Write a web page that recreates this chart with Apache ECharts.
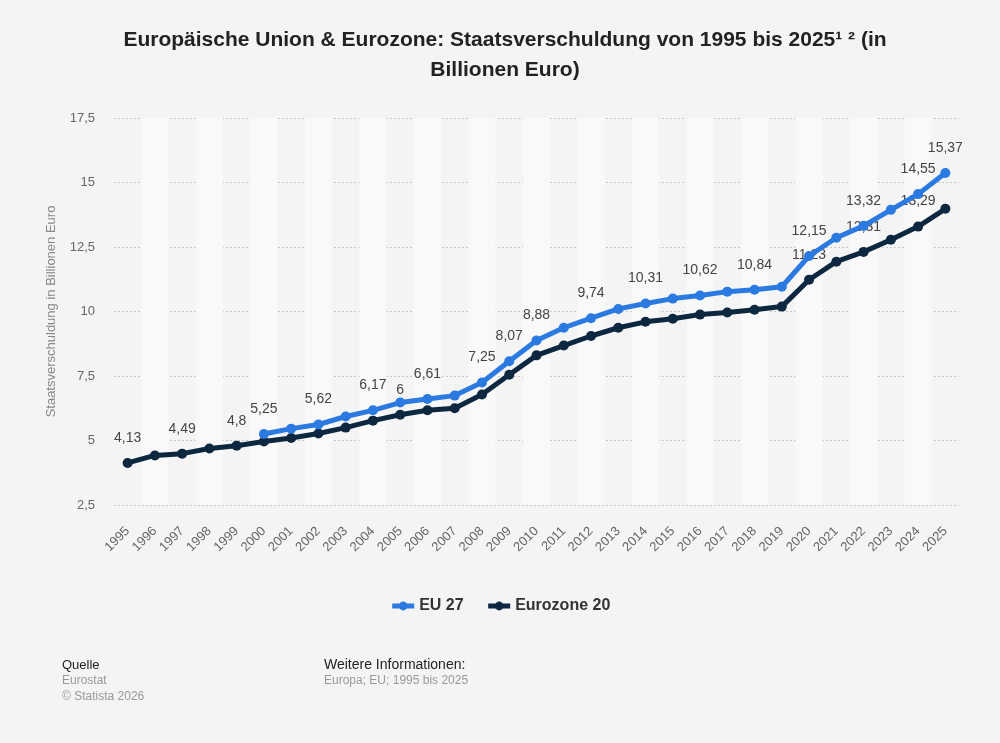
<!DOCTYPE html>
<html>
<head>
<meta charset="utf-8">
<script src="https://cdn.jsdelivr.net/npm/echarts@6/dist/echarts.min.js"></script>
<style>
    html, body { margin: 0; padding: 0; background: #f4f4f4; }
    #chart { width: 1000px; height: 743px; }
</style>
</head>
<body>
<div id="chart"></div>
<script>
var years = ['1995', '1996', '1997', '1998', '1999', '2000', '2001', '2002', '2003', '2004',
    '2005', '2006', '2007', '2008', '2009', '2010', '2011', '2012', '2013', '2014', '2015',
    '2016', '2017', '2018', '2019', '2020', '2021', '2022', '2023', '2024', '2025'];

var eu27 = [null, null, null, null, null, 5.25, 5.46, 5.62, 5.93, 6.17,
    6.47, 6.61, 6.74, 7.25, 8.07, 8.88, 9.37, 9.74, 10.1, 10.31, 10.5,
    10.62, 10.77, 10.84, 10.96, 12.15, 12.86, 13.32, 13.94, 14.55, 15.37];

var eurozone20 = [4.13, 4.42, 4.49, 4.69, 4.8, 4.96, 5.1, 5.27, 5.5, 5.77,
    6, 6.17, 6.25, 6.78, 7.55, 8.3, 8.68, 9.05, 9.37, 9.6, 9.72,
    9.88, 9.96, 10.07, 10.19, 11.23, 11.93, 12.31, 12.78, 13.29, 13.98];

// years whose value gets a label
var eu27Labels = ['2000', '2002', '2004', '2006', '2008', '2009', '2010', '2012', '2014',
    '2016', '2018', '2020', '2022', '2024', '2025'];
var eurozoneLabels = ['1995', '1997', '1999', '2005', '2020', '2022', '2024'];

var yTicks = [2.5, 5, 7.5, 10, 12.5, 15, 17.5];

var font = 'Liberation Sans, Arial, sans-serif';

function fmt(v) {
    return String(v).replace('.', ',');
}

function withLabels(values, labelYears) {
    var out = [];
    for (var i = 0; i < values.length; i++) {
        var item = {value: values[i]};
        if (labelYears.indexOf(years[i]) >= 0) {
            item.label = {show: true};
        }
        out.push(item);
    }
    return out;
}

var labelStyle = {
    show: false,
    position: 'top',
    distance: 13,
    fontSize: 14,
    color: '#444',
    fontFamily: font,
    textBorderColor: '#f7f7f7',
    textBorderWidth: 2,
    formatter: function (p) { return fmt(p.value); }
};

var myChart = echarts.init(document.getElementById('chart'));

myChart.setOption({
    backgroundColor: '#f4f4f4',
    textStyle: {fontFamily: font},
    title: {
        text: 'Europäische Union & Eurozone: Staatsverschuldung von 1995 bis 2025¹ ² (in\nBillionen Euro)',
        left: 500,
        top: 20,
        textAlign: 'center',
        textStyle: {
            fontSize: 21,
            fontWeight: 'bold',
            color: '#222',
            lineHeight: 30,
            align: 'center'
        }
    },
    legend: {
        bottom: 124,
        left: 'center',
        itemWidth: 22,
        itemHeight: 11,
        itemGap: 22,
        lineStyle: {width: 5},
        textStyle: {fontSize: 16, fontWeight: 'bold', color: '#333'},
        data: ['EU 27', 'Eurozone 20']
    },
    grid: {
        left: 114,
        right: 41,
        top: 118,
        bottom: 238
    },
    xAxis: {
        type: 'category',
        data: years,
        boundaryGap: true,
        axisLine: {show: false},
        axisTick: {show: false},
        axisLabel: {
            rotate: 45,
            fontSize: 13,
            color: '#666',
            margin: 24,
            interval: 0
        },
        splitArea: {
            show: true,
            interval: 0,
            areaStyle: {color: ['rgba(0,0,0,0)', '#f9f9f9']}
        }
    },
    yAxis: {
        type: 'value',
        min: yTicks[0],
        max: yTicks[yTicks.length - 1],
        interval: 2.5,
        name: 'Staatsverschuldung in Billionen Euro',
        nameLocation: 'middle',
        nameGap: 56,
        nameTextStyle: {fontSize: 13, color: '#888'},
        axisLine: {show: false},
        axisTick: {show: false},
        axisLabel: {
            fontSize: 13,
            color: '#666',
            margin: 19,
            formatter: function (v) { return fmt(v); }
        },
        splitLine: {
            lineStyle: {color: '#c8c8c8', type: [2, 2], width: 1}
        }
    },
    series: [{
        name: 'EU 27',
        type: 'line',
        data: withLabels(eu27, eu27Labels),
        color: '#2a7ae2',
        lineStyle: {width: 5},
        symbol: 'circle',
        symbolSize: 10,
        label: labelStyle,
        z: 3
    }, {
        name: 'Eurozone 20',
        type: 'line',
        data: withLabels(eurozone20, eurozoneLabels),
        color: '#0e2741',
        lineStyle: {width: 5},
        symbol: 'circle',
        symbolSize: 10,
        label: labelStyle,
        z: 2
    }],
    graphic: [
        {type: 'text', left: 62, top: 659, style: {text: 'Quelle', fontSize: 13, fill: '#222', fontFamily: font}},
        {type: 'text', left: 62, top: 675, style: {text: 'Eurostat', fontSize: 12, fill: '#999', fontFamily: font}},
        {type: 'text', left: 62, top: 691, style: {text: '© Statista 2026', fontSize: 12, fill: '#999', fontFamily: font}},
        {type: 'text', left: 324, top: 658, style: {text: 'Weitere Informationen:', fontSize: 14, fill: '#222', fontFamily: font}},
        {type: 'text', left: 324, top: 675, style: {text: 'Europa; EU; 1995 bis 2025', fontSize: 12, fill: '#999', fontFamily: font}}
    ]
});
</script>
</body>
</html>
